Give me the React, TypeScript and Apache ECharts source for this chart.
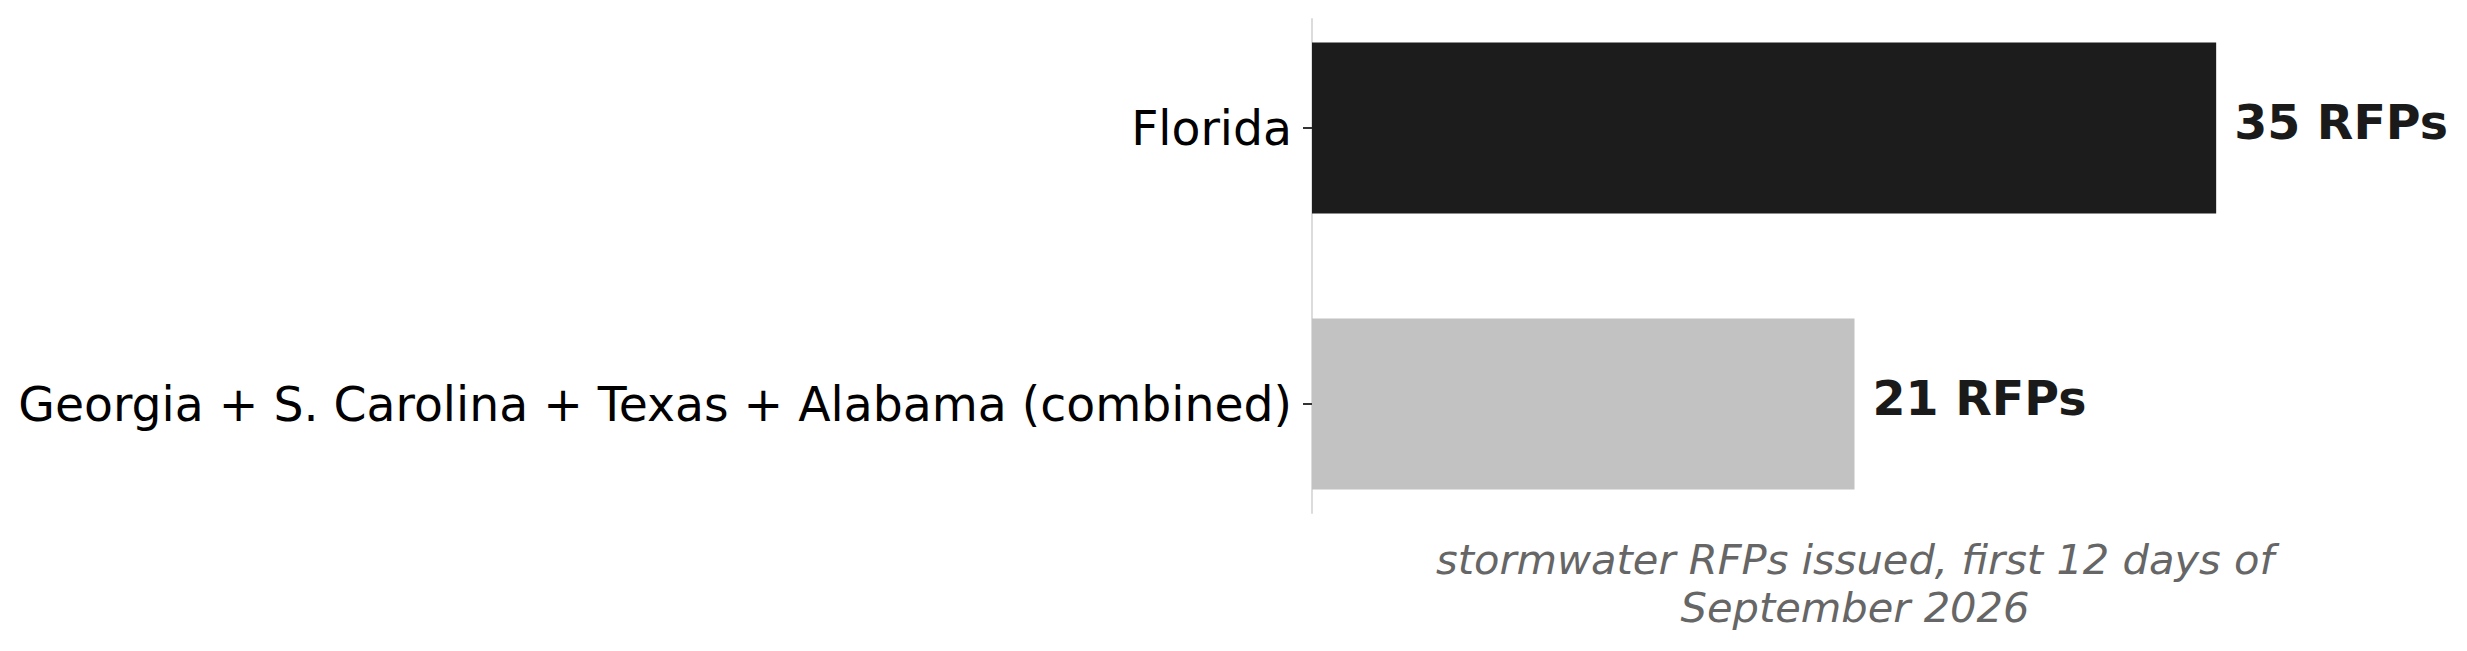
import { useRef, useEffect } from "react"
import * as echarts from "echarts"

const categories = ["Florida", "Georgia + S. Carolina + Texas + Alabama (combined)"]
const rfpCounts = [35, 21]
const barColors = ["#1c1c1c", "#c2c2c2"]
const xMax = 42
const subtitle = "stormwater RFPs issued, first 12 days of\nSeptember 2026"

const FONT = "DejaVu Sans"

export default function App() {
  const chartRef = useRef<HTMLDivElement>(null)

  useEffect(() => {
    if (!chartRef.current) return
    const instance = echarts.init(chartRef.current, undefined, { renderer: "svg" })

    instance.setOption({
      animation: false,
      grid: [
        // bars: category bands are sized so the bar centres land where they should
        { left: 1312, top: -10, width: 1085, height: 552, outerBoundsMode: "none" },
        // thin spine only
        { left: 1312, top: 19, width: 1085, height: 494, outerBoundsMode: "none" },
      ],
      xAxis: [
        { gridIndex: 0, type: "value", min: 0, max: xMax, show: false },
        {
          gridIndex: 1,
          type: "value",
          min: 0,
          max: 1,
          axisLine: { show: false },
          axisTick: { show: false },
          axisLabel: { show: false },
          splitLine: { show: false },
        },
      ],
      yAxis: [
        {
          gridIndex: 0,
          type: "category",
          inverse: true,
          data: categories,
          axisLine: { show: false },
          axisTick: {
            show: true,
            alignWithLabel: true,
            length: 9,
            lineStyle: { color: "#333", width: 2 },
          },
          axisLabel: {
            margin: 20,
            color: "#000",
            fontFamily: FONT,
            fontSize: 47.3,
          },
          splitLine: { show: false },
        },
        {
          gridIndex: 1,
          type: "value",
          min: 0,
          max: 1,
          axisLine: { show: true, onZero: false, lineStyle: { color: "#dcdcdc", width: 2 } },
          axisTick: { show: false },
          axisLabel: { show: false },
          splitLine: { show: false },
        },
      ],
      series: [
        {
          type: "bar",
          xAxisIndex: 0,
          yAxisIndex: 0,
          barWidth: 171,
          data: rfpCounts.map((v, i) => ({ value: v, itemStyle: { color: barColors[i] } })),
          label: {
            show: true,
            position: "right",
            distance: 18,
            offset: [0, -6],
            formatter: "{c} RFPs",
            color: "#1a1a1a",
            fontFamily: FONT,
            fontSize: 47.5,
            fontWeight: "bold",
          },
        },
      ],
      graphic: [
        {
          type: "text",
          x: 1855,
          y: 583,
          style: {
            text: subtitle,
            textAlign: "center",
            textVerticalAlign: "middle",
            fill: "#666666",
            fontFamily: FONT,
            fontSize: 41.6,
            fontStyle: "italic",
            lineHeight: 48,
          },
        },
      ],
    })

    return () => {
      instance.dispose()
    }
  }, [])

  return (
    <div
      ref={chartRef}
      style={{ position: "fixed", left: 0, top: 0, width: 2467, height: 651, background: "#fff" }}
    />
  )
}
